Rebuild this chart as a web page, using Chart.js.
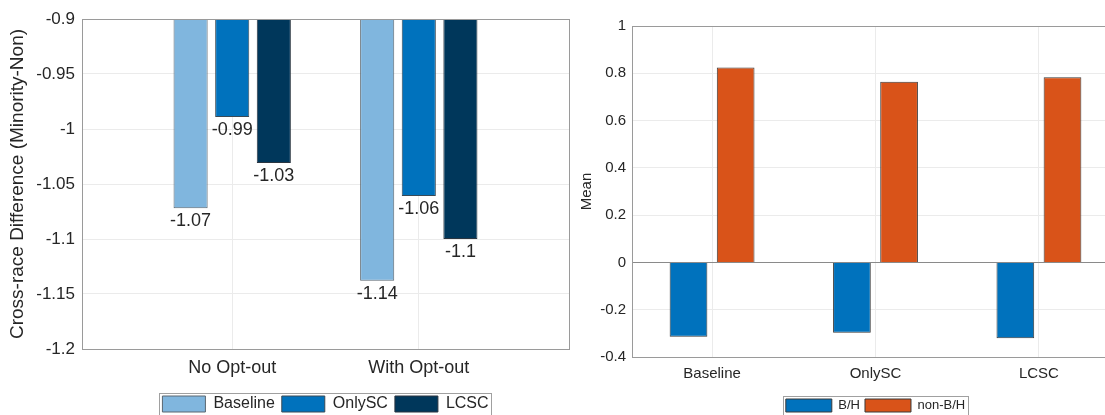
<!DOCTYPE html>
<html lang="en">
<head>
    <meta charset="UTF-8">
    <title>Cross-race Difference and Mean</title>
    <script src="https://cdn.jsdelivr.net/npm/chart.js"></script>
    <style>
        html, body {
            margin: 0;
            padding: 0;
            background: #fff;
            overflow: hidden;
        }
        .wrap {
            position: relative;
            width: 1105px;
            height: 415px;
            overflow: hidden;
        }
        #leftChart {
            position: absolute;
            left: 0;
            top: 0;
        }
        #rightChart {
            position: absolute;
            left: 575px;
            top: 0;
        }
    </style>
</head>
<body>
    <div class="wrap">
        <canvas id="leftChart" width="575" height="430"></canvas>
        <canvas id="rightChart" width="600" height="430"></canvas>
    </div>

    <script>
        // left panel: cross-race difference
        const groups = ['No Opt-out', 'With Opt-out'];
        const baseline = [-1.072, -1.138];
        const onlySC = [-0.989, -1.061];
        const lcsc = [-1.031, -1.100];
        const leftYTicks = [-1.2, -1.15, -1.1, -1.05, -1, -0.95, -0.9];

        // right panel: mean by group
        const methods = ['Baseline', 'OnlySC', 'LCSC'];
        const meanBH = [-0.314, -0.297, -0.321];
        const meanNonBH = [0.825, 0.764, 0.783];
        const rightYTicks = [-0.4, -0.2, 0, 0.2, 0.4, 0.6, 0.8, 1];

        const FONT = '"Liberation Sans", Arial, Helvetica, sans-serif';
        const TEXT = '#262626';
        const GRID = '#ebebeb';
        const EDGE = '#3a3a3a';

        const fmt = v => String(Number(v.toFixed(2)));
        const toPoints = arr => arr.map((v, i) => ({ x: i + 1, y: v }));

        // axes box (MATLAB style) + legend frame
        const framePlugin = {
            id: 'frame',
            afterDatasetsDraw(chart) {
                const { ctx, chartArea: a } = chart;
                ctx.save();
                ctx.strokeStyle = '#9a9a9a';
                ctx.lineWidth = 1;
                ctx.strokeRect(Math.round(a.left) + 0.5, Math.round(a.top) + 0.5,
                    Math.round(a.right - a.left), Math.round(a.bottom - a.top));
                ctx.restore();
            },
            afterDraw(chart) {
                const boxes = chart.legend && chart.legend.legendHitBoxes;
                if (!boxes || !boxes.length) return;
                const ctx = chart.ctx;
                const l = Math.min(...boxes.map(b => b.left)) - 3;
                const r = Math.max(...boxes.map(b => b.left + b.width)) + 3;
                const t = Math.min(...boxes.map(b => b.top)) - 3;
                ctx.save();
                ctx.strokeStyle = '#a0a0a0';
                ctx.lineWidth = 1;
                ctx.strokeRect(Math.round(l) + 0.5, Math.round(t) + 0.5, Math.round(r - l), 40);
                ctx.restore();
            }
        };

        // value labels under the bars of the left panel
        const valueLabels = {
            id: 'valueLabels',
            afterDatasetsDraw(chart) {
                const ctx = chart.ctx;
                ctx.save();
                ctx.font = '18px ' + FONT;
                ctx.fillStyle = TEXT;
                ctx.textAlign = 'center';
                ctx.textBaseline = 'top';
                chart.data.datasets.forEach((ds, di) => {
                    chart.getDatasetMeta(di).data.forEach((bar, i) => {
                        ctx.fillText(fmt(ds.data[i].y), bar.x, bar.y + 4);
                    });
                });
                ctx.restore();
            }
        };

        new Chart(document.getElementById('leftChart'), {
            type: 'bar',
            data: {
                datasets: [
                    { label: 'Baseline', data: toPoints(baseline), backgroundColor: '#80b6de', borderColor: '#5a6670', borderWidth: 1 },
                    { label: 'OnlySC', data: toPoints(onlySC), backgroundColor: '#0072bd', borderColor: '#3a4a56', borderWidth: 1 },
                    { label: 'LCSC', data: toPoints(lcsc), backgroundColor: '#00375b', borderColor: '#2a3540', borderWidth: 1 }
                ]
            },
            options: {
                responsive: false,
                animation: false,
                categoryPercentage: 0.669,
                barPercentage: 0.82,
                layout: { padding: { top: 19, right: 6, bottom: 8, left: 0 } },
                plugins: {
                    legend: {
                        position: 'bottom',
                        fullSize: false,
                        labels: { boxWidth: 43, boxHeight: 16, padding: 7, color: TEXT, font: { family: FONT, size: 16 } }
                    },
                    tooltip: { enabled: false }
                },
                scales: {
                    x: {
                        type: 'linear',
                        offset: false,
                        min: 0.195,
                        max: 2.805,
                        afterBuildTicks: s => { s.ticks = groups.map((g, i) => ({ value: i + 1 })); },
                        afterFit: s => { s.height = 40; },
                        grid: { color: GRID, drawTicks: false, offset: false },
                        border: { display: false },
                        ticks: { callback: v => groups[v - 1], padding: 8, color: TEXT, font: { family: FONT, size: 18 } }
                    },
                    y: {
                        min: -1.2,
                        max: -0.9,
                        afterBuildTicks: s => { s.ticks = leftYTicks.map(v => ({ value: v })); },
                        afterFit: s => { s.width = 82; },
                        grid: { color: GRID, drawTicks: false },
                        border: { display: false },
                        ticks: { callback: v => fmt(v), padding: 7, color: TEXT, font: { family: FONT, size: 17 } },
                        title: {
                            display: true,
                            text: 'Cross-race Difference (Minority-Non)',
                            color: TEXT,
                            font: { family: FONT, size: 19 },
                            padding: { top: 6, bottom: 0 }
                        }
                    }
                }
            },
            plugins: [framePlugin, valueLabels]
        });

        new Chart(document.getElementById('rightChart'), {
            type: 'bar',
            data: {
                datasets: [
                    { label: 'B/H', data: toPoints(meanBH), backgroundColor: '#0072bd', borderColor: EDGE, borderWidth: 1 },
                    { label: 'non-B/H', data: toPoints(meanNonBH), backgroundColor: '#d95319', borderColor: EDGE, borderWidth: 1 }
                ]
            },
            options: {
                responsive: false,
                animation: false,
                categoryPercentage: 0.577,
                barPercentage: 0.8,
                layout: { padding: { top: 26, right: 56, bottom: 8, left: 0 } },
                plugins: {
                    legend: {
                        position: 'bottom',
                        fullSize: false,
                        labels: { boxWidth: 46, boxHeight: 13, padding: 5, color: TEXT, font: { family: FONT, size: 13 } }
                    },
                    tooltip: { enabled: false }
                },
                scales: {
                    x: {
                        type: 'linear',
                        offset: false,
                        min: 0.51,
                        max: 3.49,
                        afterBuildTicks: s => { s.ticks = methods.map((m, i) => ({ value: i + 1 })); },
                        afterFit: s => { s.height = 37; },
                        grid: { color: GRID, drawTicks: false, offset: false },
                        border: { display: false },
                        ticks: { callback: v => methods[v - 1], padding: 8, color: TEXT, font: { family: FONT, size: 15 } }
                    },
                    y: {
                        min: -0.4,
                        max: 1,
                        afterBuildTicks: s => { s.ticks = rightYTicks.map(v => ({ value: v })); },
                        afterFit: s => { s.width = 57; },
                        grid: { color: c => (c.tick && c.tick.value === 0 ? '#8a8a8a' : GRID), drawTicks: false },
                        border: { display: false },
                        ticks: { callback: v => fmt(v), padding: 6, color: TEXT, font: { family: FONT, size: 15 } },
                        title: {
                            display: true,
                            text: 'Mean',
                            color: TEXT,
                            font: { family: FONT, size: 15 },
                            padding: { top: 3, bottom: 0 }
                        }
                    }
                }
            },
            plugins: [framePlugin]
        });
    </script>
</body>
</html>
